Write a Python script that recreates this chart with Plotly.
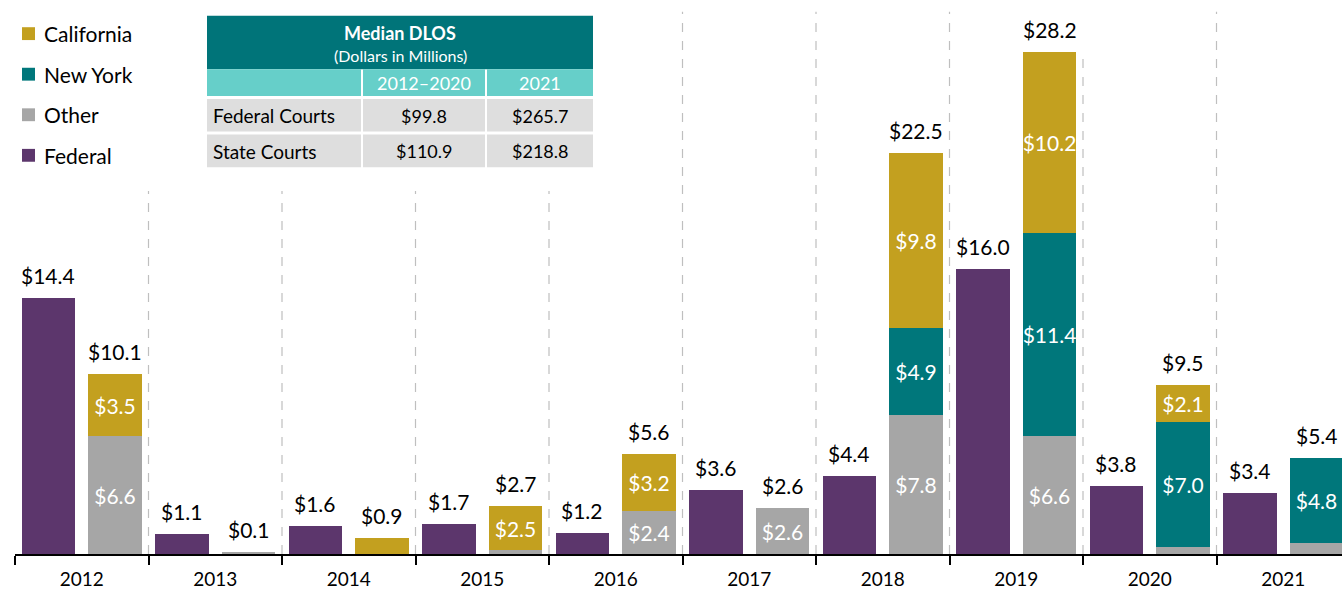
import plotly.graph_objects as go

years = ["2012", "2013", "2014", "2015", "2016", "2017", "2018", "2019", "2020", "2021"]
federal = [14.4, 1.1, 1.6, 1.7, 1.2, 3.6, 4.4, 16.0, 3.8, 3.4]
state_other = [6.6, 0.1, 0.0, 0.2, 2.4, 2.6, 7.8, 6.6, 0.4, 0.6]
state_ny = [0.0, 0.0, 0.0, 0.0, 0.0, 0.0, 4.9, 11.4, 7.0, 4.8]
state_ca = [3.5, 0.0, 0.9, 2.5, 3.2, 0.0, 9.8, 10.2, 2.1, 0.0]
state_total = [10.1, 0.1, 0.9, 2.7, 5.6, 2.6, 22.5, 28.2, 9.5, 5.4]
other_lbl = ["$6.6", "", "", "", "$2.4", "$2.6", "$7.8", "$6.6", "", ""]
ny_lbl = ["", "", "", "", "", "", "$4.9", "$11.4", "$7.0", "$4.8"]
ca_lbl = ["$3.5", "", "", "$2.5", "$3.2", "", "$9.8", "$10.2", "$2.1", ""]

table_title = "Median DLOS"
table_sub = "(Dollars in Millions)"
table_cols = ["2012\u20132020", "2021"]
table_rows = ["Federal Courts", "State Courts"]
table_vals = [["$99.8", "$265.7"], ["$110.9", "$218.8"]]
legend_names = ["California", "New York", "Other", "Federal"]

C_FED = "#5C366C"
C_CA = "#C3A01F"
C_NY = "#00777B"
C_OTH = "#A6A6A6"
FONT = "Lato"

W, H = 1342, 590
ML, MR, MT, MB = 15, 0, 0, 30
PW = W - ML - MR
PH = H - MT - MB
CAT_PX = 133.5
x_max = (W - ML) / CAT_PX - 0.5
PX_PER_UNIT = 18.0
y_max = PH / PX_PER_UNIT


def px(xp):
    return (xp - ML) / PW


def py(yp):
    return (H - MB - yp) / PH


def ydata(yp):
    return (H - MB - yp) / PX_PER_UNIT


n = len(years)
xf = [i - 0.25 for i in range(n)]
xs = [i + 0.25 for i in range(n)]
BW = 0.4
line = dict(color="white", width=0)
inside_font = dict(color="white", size=21, family=FONT)

fig = go.Figure()
fig.add_bar(x=xf, y=federal, width=BW, marker=dict(color=C_FED, line=line), name="Federal",
            hoverinfo="y")
fig.add_bar(x=xs, y=state_other, width=BW, marker=dict(color=C_OTH, line=line), name="Other",
            text=other_lbl, textposition="inside", insidetextanchor="middle",
            textfont=inside_font, textangle=0)
fig.add_bar(x=xs, y=state_ny, width=BW, marker=dict(color=C_NY, line=line), name="New York",
            text=ny_lbl, textposition="inside", insidetextanchor="middle",
            textfont=inside_font, textangle=0)
fig.add_bar(x=xs, y=state_ca, width=BW, marker=dict(color=C_CA, line=line), name="California",
            text=ca_lbl, textposition="inside", insidetextanchor="middle",
            textfont=inside_font, textangle=0)

annotations = []
for i in range(n):
    annotations.append(dict(x=xf[i], y=federal[i], text=f"${federal[i]:.1f}", showarrow=False,
                            xanchor="center", yanchor="bottom", yshift=8,
                            font=dict(size=21, color="black", family=FONT)))
    annotations.append(dict(x=xs[i], y=state_total[i], text=f"${state_total[i]:.1f}", showarrow=False,
                            xanchor="center", yanchor="bottom", yshift=8,
                            font=dict(size=21, color="black", family=FONT)))

shapes = []
# dashed dividers
tops_px = [193, 193, 193, 193, 12, 12, 12, 52, 12]
for k, tp in enumerate(tops_px):
    xv = k + 0.5
    shapes.append(dict(type="line", xref="x", yref="y", x0=xv, x1=xv, y0=0, y1=ydata(tp),
                       line=dict(color="#BFBFBF", width=1.2, dash="dash"), layer="below"))

# legend
leg_colors = [C_CA, C_NY, C_OTH, C_FED]
leg_y = [34, 75, 116, 157]
for name, col, yy in zip(legend_names, leg_colors, leg_y):
    shapes.append(dict(type="rect", xref="paper", yref="paper", x0=px(22), x1=px(35),
                       y0=py(yy + 6.5), y1=py(yy - 6.5), fillcolor=col, line=dict(width=0)))
    annotations.append(dict(xref="paper", yref="paper", x=px(42), y=py(yy), text=name,
                            showarrow=False, xanchor="left", yanchor="middle",
                            font=dict(size=21, color="black", family=FONT)))

# table
TL, TR = 207, 593
cols_x = [(207, 361), (363, 485), (487, 593)]
shapes.append(dict(type="rect", xref="paper", yref="paper", x0=px(TL), x1=px(TR), y0=py(70), y1=py(16),
                   fillcolor="#007479", line=dict(width=0)))
for (a, b) in cols_x:
    shapes.append(dict(type="rect", xref="paper", yref="paper", x0=px(a), x1=px(b), y0=py(97), y1=py(70),
                       fillcolor="#66CFC9", line=dict(width=0)))
    for (r0, r1) in [(100, 133), (136, 169)]:
        shapes.append(dict(type="rect", xref="paper", yref="paper", x0=px(a), x1=px(b), y0=py(r1), y1=py(r0),
                           fillcolor="#DEDEDE", line=dict(width=0)))
annotations.append(dict(xref="paper", yref="paper", x=px((TL + TR) / 2), y=py(33), text=f"<b>{table_title}</b>",
                        showarrow=False, xanchor="center", yanchor="middle",
                        font=dict(size=18, color="white", family=FONT)))
annotations.append(dict(xref="paper", yref="paper", x=px((TL + TR) / 2), y=py(56), text=table_sub,
                        showarrow=False, xanchor="center", yanchor="middle",
                        font=dict(size=16, color="white", family=FONT)))
for j, c in enumerate(table_cols):
    a, b = cols_x[j + 1]
    annotations.append(dict(xref="paper", yref="paper", x=px((a + b) / 2), y=py(84), text=c,
                            showarrow=False, xanchor="center", yanchor="middle",
                            font=dict(size=18, color="white", family=FONT)))
for r, (rname, rvals) in enumerate(zip(table_rows, table_vals)):
    yc = 117 + r * 36
    annotations.append(dict(xref="paper", yref="paper", x=px(211), y=py(yc), text=rname,
                            xanchor="left", yanchor="middle",
                            showarrow=False, font=dict(size=19, color="black", family=FONT)))
    for j, v in enumerate(rvals):
        a, b = cols_x[j + 1]
        annotations.append(dict(xref="paper", yref="paper", x=px((a + b) / 2), y=py(yc), text=v,
                                xanchor="center", yanchor="middle",
                                showarrow=False, font=dict(size=18, color="black", family=FONT)))

fig.update_layout(
    width=W, height=H,
    margin=dict(l=ML, r=MR, t=MT, b=MB),
    barmode="stack",
    bargap=0,
    showlegend=False,
    plot_bgcolor="white", paper_bgcolor="white",
    font=dict(family=FONT, color="black"),
    xaxis=dict(range=[-0.5, x_max], tickvals=list(range(n)), ticktext=years, ticks="",
               showgrid=False, zeroline=False, showline=True, linecolor="black", linewidth=1.5,
               tickfont=dict(size=19, family=FONT, color="black"), ticklabelstandoff=7,
               minor=dict(tickvals=[k - 0.5 for k in range(n + 1)], ticks="outside", ticklen=9,
                          tickcolor="black", tickwidth=1.5, showgrid=False),
               fixedrange=True),
    yaxis=dict(range=[0, y_max], visible=False, fixedrange=True),
    shapes=shapes,
    annotations=annotations,
    uniformtext=dict(minsize=21, mode="show"),
)

fig.write_html("out.html", config={"displayModeBar": False},
               post_script="document.body.style.margin='0px';document.documentElement.style.margin='0px';")
